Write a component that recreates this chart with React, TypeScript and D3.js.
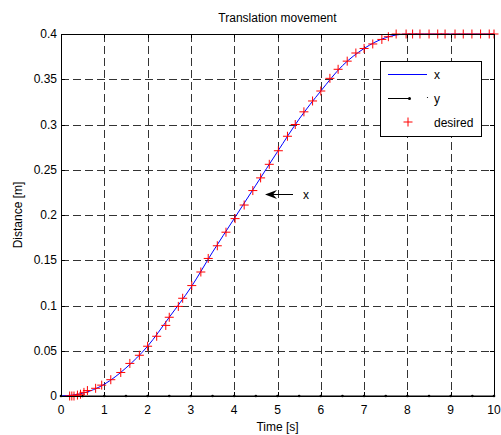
import React from "react";
import * as d3 from "d3";

// Measured x position (blue line), sampled every 0.5 s
const xTimes = [0, 0.5, 1, 1.5, 2, 2.5, 3, 3.5, 4, 4.5, 5, 5.5, 6, 6.5, 7, 7.5, 8, 8.5, 9, 9.5, 10];
const xValues = [0, 0.003, 0.013, 0.031, 0.055, 0.087, 0.12, 0.159, 0.196, 0.233, 0.27, 0.306, 0.337, 0.365, 0.384, 0.396, 0.4, 0.4, 0.4, 0.4, 0.4];

// Desired trajectory samples (red plus markers)
const desiredTimes = [
  0.2, 0.25, 0.3, 0.38, 0.45, 0.53, 0.61, 0.8, 0.94, 1.15, 1.38, 1.59, 1.81, 2.0, 2.21, 2.42, 2.5,
  2.71, 2.81, 3.02, 3.23, 3.4, 3.61, 3.81, 4.02, 4.23, 4.43, 4.61, 4.81, 5.02, 5.23, 5.41, 5.61,
  5.81, 6.0, 6.21, 6.4, 6.61, 6.81, 7.0, 7.2, 7.41, 7.56, 7.74, 7.97, 8.12, 8.29, 8.5, 8.7, 8.87,
  9.1, 9.29, 9.49, 9.69, 9.89, 10.0,
];
const desiredValues = [
  0, 0, 0, 0.001, 0.002, 0.004, 0.006, 0.0085, 0.012, 0.018, 0.026, 0.036, 0.045, 0.055, 0.066, 0.078, 0.087,
  0.099, 0.108, 0.122, 0.137, 0.152, 0.166, 0.181, 0.196, 0.211, 0.227, 0.241, 0.256, 0.271, 0.287, 0.3, 0.314,
  0.326, 0.337, 0.351, 0.361, 0.37, 0.379, 0.384, 0.389, 0.394, 0.397, 0.4, 0.4, 0.4, 0.4, 0.4, 0.4, 0.4,
  0.4, 0.4, 0.4, 0.4, 0.4, 0.4,
];

// Measured y position (black dotted line along zero)
const yTimes = [0, 0.5, 1, 1.5, 2, 2.5, 3, 3.5, 4, 4.5, 5, 5.5, 6, 6.5, 7, 7.5, 8, 8.5, 9, 9.5, 10];
const yValues = [0, 0, 0, 0, 0, 0, 0, 0, 0, 0, 0, 0, 0, 0, 0, 0, 0, 0, 0, 0, 0];

const xTicks = [0, 1, 2, 3, 4, 5, 6, 7, 8, 9, 10];
const yTicks = [0, 0.05, 0.1, 0.15, 0.2, 0.25, 0.3, 0.35, 0.4];
const yTickLabels = ["0", "0.05", "0.1", "0.15", "0.2", "0.25", "0.3", "0.35", "0.4"];

const W = 501;
const H = 435;
const left = 61;
const right = 494;
const top = 34;
const bottom = 396;
const font = "'Liberation Sans', Arial, Helvetica, sans-serif";

export default function App() {
  const xs = d3.scaleLinear().domain([0, 10]).range([left, right]);
  const ys = d3.scaleLinear().domain([0, 0.4]).range([bottom, top]);

  const xLine = d3
    .line<number>()
    .x((_, i) => xs(xTimes[i]))
    .y((d) => ys(d))
    .curve(d3.curveMonotoneX)(xValues) as string;

  const yLine = d3
    .line<number>()
    .x((_, i) => xs(yTimes[i]))
    .y((d) => ys(d))(yValues) as string;

  const plus = (cx: number, cy: number, s = 4.5) =>
    `M${cx - s},${cy}H${cx + s}M${cx},${cy - s}V${cy + s}`;

  const tickLen = 4;

  return (
    <svg
      width={W}
      height={H}
      style={{ position: "absolute", left: 0, top: 0, background: "#fff" }}
      fontFamily={font}
    >
      <rect x={0} y={0} width={W} height={H} fill="#fff" />
      {/* grid */}
      <g stroke="#333" strokeWidth={1} strokeDasharray="8,4" shapeRendering="crispEdges">
        {xTicks.slice(1, -1).map((t) => (
          <line key={"gx" + t} x1={Math.round(xs(t)) + 0.5} x2={Math.round(xs(t)) + 0.5} y1={top} y2={bottom} />
        ))}
        {yTicks.slice(1, -1).map((t) => (
          <line key={"gy" + t} x1={left} x2={right} y1={Math.round(ys(t)) + 0.5} y2={Math.round(ys(t)) + 0.5} />
        ))}
      </g>

      {/* ticks on all four sides, pointing inward */}
      <g stroke="#000" strokeWidth={1} shapeRendering="crispEdges">
        {xTicks.map((t) => {
          const x = Math.round(xs(t)) + 0.5;
          return (
            <g key={"tx" + t}>
              <line x1={x} x2={x} y1={bottom} y2={bottom - tickLen} />
              <line x1={x} x2={x} y1={top} y2={top + tickLen} />
            </g>
          );
        })}
        {yTicks.map((t) => {
          const y = Math.round(ys(t)) + 0.5;
          return (
            <g key={"ty" + t}>
              <line x1={left} x2={left + tickLen} y1={y} y2={y} />
              <line x1={right} x2={right - tickLen} y1={y} y2={y} />
            </g>
          );
        })}
      </g>

      {/* data */}
      <path d={yLine} fill="none" stroke="#000" strokeWidth={1} />
      {yTimes.map((t, i) => (
        <circle key={"yd" + i} cx={xs(t)} cy={ys(yValues[i])} r={1.3} fill="#000" />
      ))}
      <path d={xLine} fill="none" stroke="#0000ff" strokeWidth={1} />
      <path
        d={desiredTimes.map((t, i) => plus(xs(t), ys(desiredValues[i]))).join("")}
        fill="none"
        stroke="#ff0000"
        strokeWidth={1}
      />

      {/* frame */}
      <rect
        x={left + 0.5}
        y={top + 0.5}
        width={right - left}
        height={bottom - top}
        fill="none"
        stroke="#000"
        strokeWidth={1.2}
        shapeRendering="crispEdges"
      />

      {/* tick labels */}
      <g fontSize={12} fill="#000">
        {xTicks.map((t) => (
          <text key={"lx" + t} x={xs(t)} y={414} textAnchor="middle">
            {t}
          </text>
        ))}
        {yTicks.map((t, i) => (
          <text key={"ly" + t} x={57} y={ys(t) + 4} textAnchor="end">
            {yTickLabels[i]}
          </text>
        ))}
      </g>

      {/* titles */}
      <text x={(left + right) / 2} y={22} textAnchor="middle" fontSize={12}>
        Translation movement
      </text>
      <text x={(left + right) / 2} y={431} textAnchor="middle" fontSize={12}>
        Time [s]
      </text>
      <text
        transform={`translate(22,${(top + bottom) / 2}) rotate(-90)`}
        textAnchor="middle"
        fontSize={12}
      >
        Distance [m]
      </text>

      {/* annotation */}
      <g>
        <line x1={293} x2={268} y1={194.5} y2={194.5} stroke="#000" strokeWidth={1} />
        <path d="M265,194.5 L277,190 L273,194.5 L277,199 Z" fill="#000" />
        <text x={303} y={198.5} fontSize={12}>
          x
        </text>
      </g>

      {/* legend */}
      <g>
        <rect x={380.5} y={61.5} width={101} height={75} fill="#fff" stroke="#000" strokeWidth={1} />
        <line x1={388} x2={427} y1={74.5} y2={74.5} stroke="#0000ff" strokeWidth={1} />
        <text x={434} y={79} fontSize={12}>x</text>
        <line x1={388} x2={410} y1={98.5} y2={98.5} stroke="#000" strokeWidth={1} />
        <circle cx={409.5} cy={98.5} r={1.5} fill="#000" />
        <circle cx={427.5} cy={97.5} r={0.6} fill="#000" />
        <text x={434} y={103} fontSize={12}>y</text>
        <path d={plus(408, 122)} stroke="#ff0000" strokeWidth={1} fill="none" />
        <text x={434} y={127} fontSize={12}>desired</text>
      </g>
    </svg>
  );
}
